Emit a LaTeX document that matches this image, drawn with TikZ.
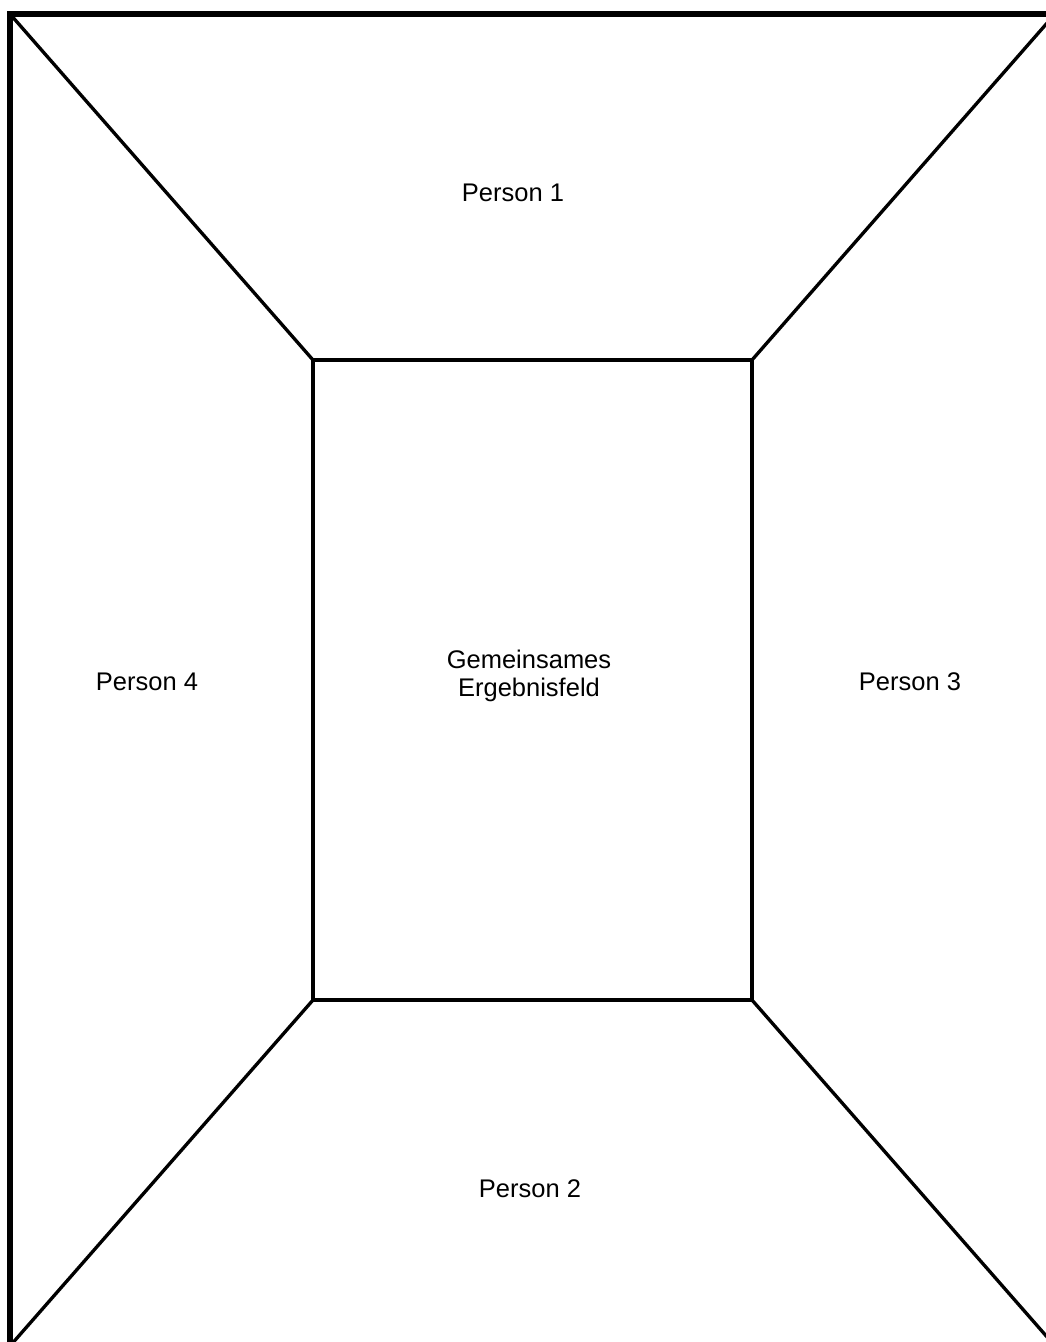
\documentclass[tikz,border=0pt]{standalone}
\usepackage{fontspec}
\setmainfont{Liberation Sans}
\usepackage{tikz}
\usetikzlibrary{positioning}
\tikzstyle{frame}=[line width=1.6pt]
\tikzstyle{field}=[line width=1.15pt]
\tikzstyle{edge}=[line width=0.95pt]
\tikzstyle{lbl}=[font=\fontsize{7.25}{7.97}\selectfont, inner sep=0pt]

\begin{document}
\begin{tikzpicture}[x=0.01cm, y=-0.01cm]
  \clip (0,0) rectangle (1046,1342);
  % outer frame corners
  \coordinate (tl) at (10,14);
  \coordinate (tr) at (1055,14);
  \coordinate (br) at (1055,1346);
  \coordinate (bl) at (10,1346);
  % common field corners
  \coordinate (ftl) at (313,360);
  \coordinate (ftr) at (752,360);
  \coordinate (fbr) at (752,1000);
  \coordinate (fbl) at (313,1000);
%
  \draw [frame] (tl) -- (tr) -- (br) -- (bl) -- cycle;
  \draw [field] (ftl) -- (ftr) -- (fbr) -- (fbl) -- cycle;
  \draw [edge] (tl) -- (ftl);
  \draw [edge] (tr) -- (ftr);
  \draw [edge] (br) -- (fbr);
  \draw [edge] (bl) -- (fbl);
%
  \node [lbl, anchor=base] (p1) at (513,201) {Person 1};
  \node [lbl, anchor=base] (p2) at (530,1197) {Person 2};
  \node [lbl, anchor=base] (p3) at (910,690) {Person 3};
  \node [lbl, anchor=base] (p4) at (147,690) {Person 4};
  \node [lbl, align=center] (res) at (529,676) {Gemeinsames\\Ergebnisfeld};
\end{tikzpicture}
\end{document}
